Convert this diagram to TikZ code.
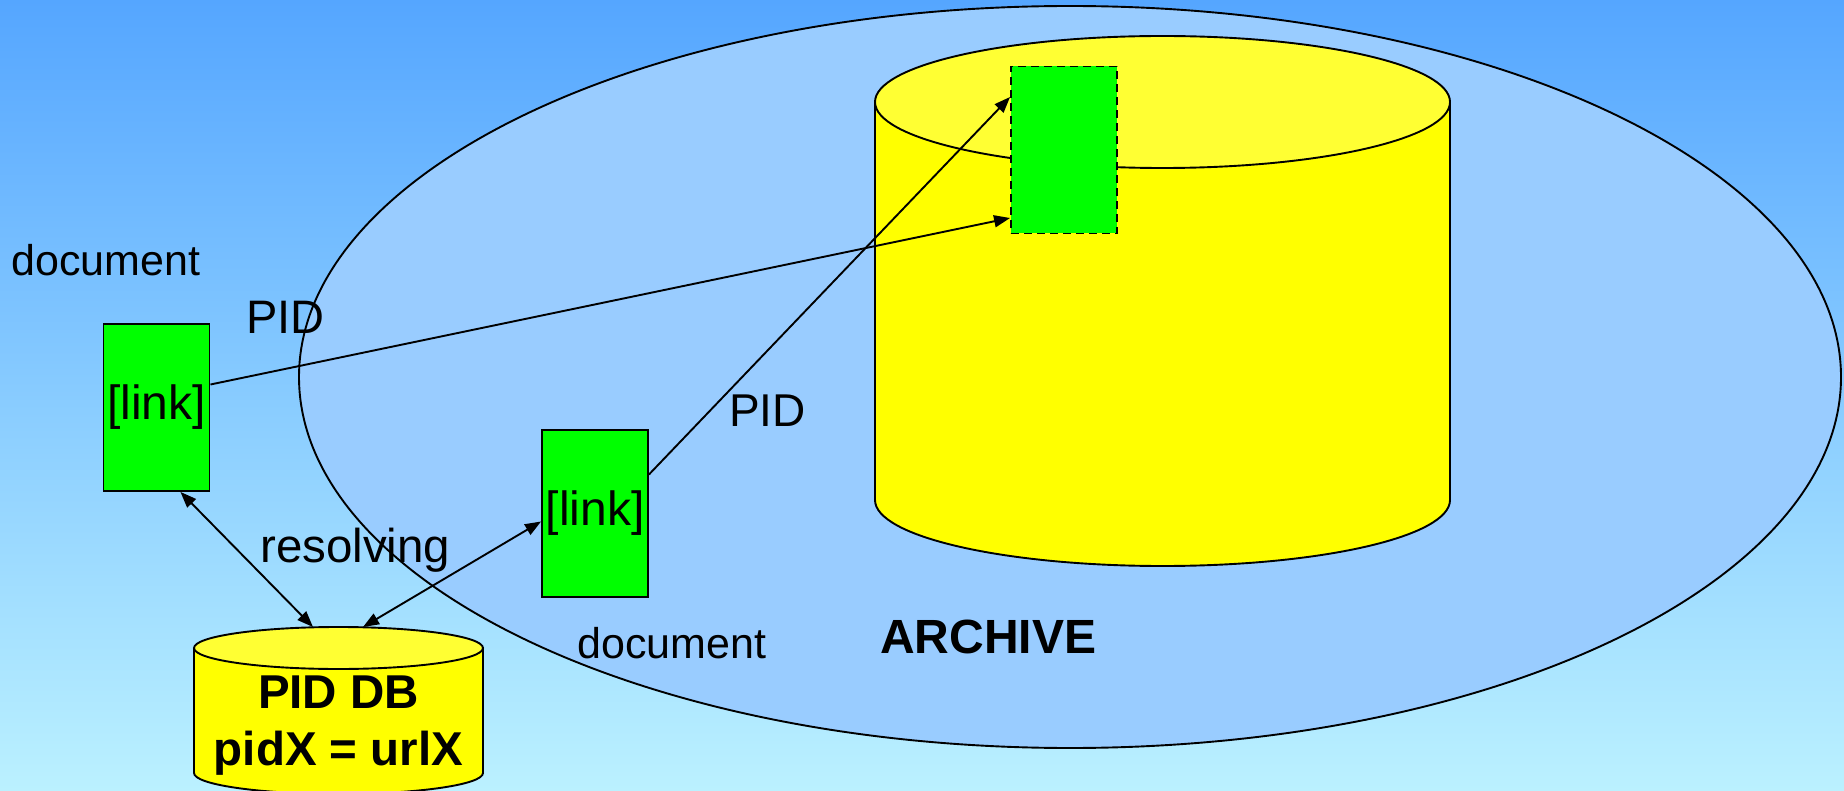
\documentclass[tikz,border=0pt]{standalone}
\usepackage{fontspec}
\setmainfont{Liberation Sans}
\usetikzlibrary{arrows.meta,calc}
\definecolor{bgtop}{RGB}{85,166,255}
\definecolor{bgbot}{RGB}{187,241,255}
\definecolor{archfill}{RGB}{153,204,255}
\definecolor{cylbody}{RGB}{255,255,0}
\definecolor{cyltop}{RGB}{255,255,51}
\definecolor{grn}{RGB}{0,255,0}
\begin{document}
\begin{tikzpicture}[x=1pt,y=-1pt,
  linkbox/.style={draw=black, line width=1.9pt, fill=grn, minimum width=106pt, minimum height=167pt, inner sep=0pt, font=\fontsize{48}{57}\selectfont},
  lbl/.style={inner sep=0pt, anchor=base west},
  conn/.style={line width=1.9pt, -{Triangle[length=16pt,width=12pt]}},
  dconn/.style={line width=1.9pt, {Triangle[length=16pt,width=12pt]}-{Triangle[length=16pt,width=12pt]}},
  outl/.style={draw=black, line width=1.9pt}]
\useasboundingbox (0,0) rectangle (1844,791);
% background
\shade[top color=bgtop, bottom color=bgbot] (0,0) rectangle (1844,791);
% archive ellipse
\draw[outl, fill=archfill] (1070,377) ellipse [x radius=771, y radius=371];
% big cylinder
\path[fill=cylbody] (875,102) -- (875,500) arc [start angle=180, end angle=0, x radius=287.5, y radius=66] -- (1450,102) -- cycle;
\draw[outl] (875,102) -- (875,500) arc [start angle=180, end angle=0, x radius=287.5, y radius=66] -- (1450,102);
\draw[outl, fill=cyltop] (1162.5,102) ellipse [x radius=287.5, y radius=66];
% PID DB cylinder
\path[fill=cylbody] (194,648) -- (194,773) arc [start angle=180, end angle=0, x radius=144.5, y radius=21] -- (483,648) -- cycle;
\draw[outl] (194,648) -- (194,773) arc [start angle=180, end angle=0, x radius=144.5, y radius=21] -- (483,648);
\draw[outl, fill=cyltop] (338.5,648) ellipse [x radius=144.5, y radius=21];
\coordinate (dbA) at (313,627);
\coordinate (dbB) at (363,627);
\node[inner sep=0pt, anchor=base, font=\bfseries\fontsize{47.5}{57}\selectfont] (pidtitle) at (338.5,708) {PID DB};
\node[inner sep=0pt, anchor=base, font=\bfseries\fontsize{47.5}{57}\selectfont] (pidmap) at (338.5,765) {pidX = urlX};
% boxes
\node[linkbox] (lnk1) at (156.5,407.5) {[link]};
\node[linkbox] (lnk2) at (595,513.5) {[link]};
\node[linkbox, dash pattern=on 8pt off 5pt] (tgt) at (1064,150) {};
% connectors
\draw[conn] ([yshift=23pt]lnk1.east) -- ([yshift=-68pt]tgt.west);
\draw[conn] ([yshift=39pt]lnk2.east) -- ([yshift=53pt]tgt.west);
\draw[dconn] ([xshift=-30pt]lnk1.south east) -- (dbA);
\draw[dconn] ([yshift=-8pt]lnk2.west) -- (dbB);
% labels
\node[lbl, font=\fontsize{43}{51}\selectfont] (doc1) at (11,276) {document};
\node[lbl, font=\fontsize{47}{56}\selectfont] (pid1) at (246,334) {PID};
\node[lbl, font=\fontsize{46}{55}\selectfont] (pid2) at (729,426) {PID};
\node[lbl, font=\fontsize{47.5}{57}\selectfont] (res) at (260,562) {resolving};
\node[lbl, font=\fontsize{43}{51}\selectfont] (doc2) at (577,658) {document};
\node[lbl, font=\bfseries\fontsize{48}{58}\selectfont] (archlbl) at (880,653) {ARCHIVE};
\end{tikzpicture}
\end{document}
